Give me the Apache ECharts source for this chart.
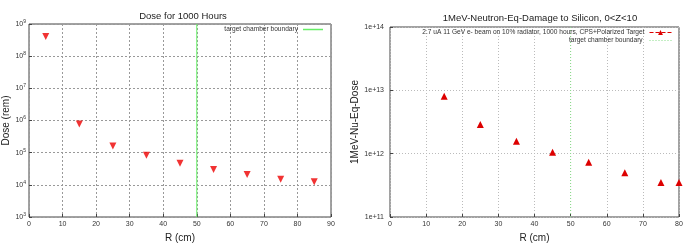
<!DOCTYPE html>
<html><head><meta charset="utf-8">
<script src="https://cdn.jsdelivr.net/npm/echarts@6/dist/echarts.min.js"></script>
<style>html,body{margin:0;padding:0;background:#fff}#c{width:692px;height:248px}</style>
</head><body><div id="c"></div>
<script>
const doseR = [5, 15, 25, 35, 45, 55, 65, 75, 85];
const doseRem = [4.1e8, 7.8e5, 1.6e5, 8.3e4, 4.7e4, 3.0e4, 2.1e4, 1.5e4, 1.25e4];
const niR = [15, 25, 35, 45, 55, 65, 75, 80];
const niDose = [8.1e12, 2.9e12, 1.57e12, 1.05e12, 7.3e11, 5.0e11, 3.5e11, 3.5e11];
const boundaryR = 50;
const leftTitle = 'Dose for 1000 Hours';
const rightTitle = '1MeV-Neutron-Eq-Damage to Silicon, 0<Z<10';
const leftYName = 'Dose (rem)';
const rightYName = '1MeV-Nu-Eq-Dose';
const xName = 'R (cm)';
const legendBoundary = 'target chamber boundary';
const legendBeam = '2.7 uA 11 GeV e- beam on 10% radiator, 1000 hours, CPS+Polarized Target';

const FONT = 'Liberation Sans, Arial, sans-serif';
const chart = echarts.init(document.getElementById('c'));
const grid1 = {left: 28, top: 24, width: 303, height: 197, show: true, borderColor: '#444', borderWidth: 1, backgroundColor: '#fff'};
const grid2 = {left: 390, top: 27, width: 289, height: 198, show: true, borderColor: '#444', borderWidth: 1, backgroundColor: '#fff'};
const split = {show: true, lineStyle: {color: '#999', type: [2, 2], width: 1}};
const split2 = {show: true, lineStyle: {color: '#bbb', type: [1, 2], width: 1}};
const lbl = {fontSize: 7, color: '#333', fontFamily: FONT};
const titleStyle = {fontSize: 9.5, fontWeight: 'normal', color: '#222', fontFamily: FONT};
const nameStyle = {fontSize: 10, color: '#222', fontFamily: FONT};
const legText = {fontSize: 6.6, color: '#333', fontFamily: FONT};

chart.setOption({
  animation: false,
  textStyle: {fontFamily: FONT},
  title: [
    {text: leftTitle, left: 178, top: 6, textAlign: 'center', textStyle: titleStyle},
    {text: rightTitle, left: 535, top: 8, textAlign: 'center', textStyle: titleStyle}
  ],
  legend: [
    {data: [{name: legendBoundary, icon: 'rect', itemStyle: {color: '#66ee66'}}], right: 369, top: 26, padding: 0, align: 'right',
     itemWidth: 20, itemHeight: 1.5, itemGap: 2, textStyle: legText},
    {data: [{name: legendBeam, lineStyle: {width: 1, type: 'dashed', color: '#dd0000', opacity: 1}},
            {name: legendBoundary + ' ', itemStyle: {opacity: 0}, lineStyle: {width: 1, type: [1, 2], color: '#88dd88', opacity: 1}}],
     orient: 'vertical', right: 20, top: 29, padding: 0, align: 'right', itemWidth: 22, itemHeight: 6, itemGap: 1,
     textStyle: legText}
  ],
  grid: [grid1, grid2],
  xAxis: [
    {gridIndex: 0, type: 'value', min: 0, max: 90, interval: 10, name: xName, nameLocation: 'middle', nameGap: 16,
     nameTextStyle: nameStyle,
     axisLine: {show: false}, axisTick: {show: true, inside: true, length: 3, lineStyle: {color: '#444'}},
     axisLabel: Object.assign({margin: 4}, lbl), splitLine: split},
    {gridIndex: 1, type: 'value', min: 0, max: 80, interval: 10, name: xName, nameLocation: 'middle', nameGap: 16,
     nameTextStyle: nameStyle,
     axisLine: {show: false}, axisTick: {show: true, inside: true, length: 3, lineStyle: {color: '#444'}},
     axisLabel: Object.assign({margin: 4}, lbl), splitLine: split2}
  ],
  yAxis: [
    {gridIndex: 0, type: 'log', logBase: 10, min: 1e3, max: 1e9, name: leftYName, nameLocation: 'middle', nameGap: 18,
     nameTextStyle: nameStyle,
     axisLine: {show: false}, axisTick: {show: true, inside: true, length: 3, lineStyle: {color: '#444'}},
     axisLabel: Object.assign({margin: 3, formatter: v => '10{s|' + Math.round(Math.log10(v)) + '}',
       rich: {s: {fontSize: 5, verticalAlign: 'top', padding: [0, 0, 5, 0], color: '#333'}}}, lbl),
     splitLine: split},
    {gridIndex: 1, type: 'log', logBase: 10, min: 1e11, max: 1e14, name: rightYName, nameLocation: 'middle', nameGap: 30,
     nameTextStyle: nameStyle,
     axisLine: {show: false}, axisTick: {show: true, inside: true, length: 3, lineStyle: {color: '#444'}},
     axisLabel: Object.assign({margin: 6, formatter: v => '1e+' + Math.round(Math.log10(v))}, lbl),
     splitLine: split2}
  ],
  series: [
    {name: legendBoundary, type: 'line', xAxisIndex: 0, yAxisIndex: 0, symbol: 'none',
     data: [[boundaryR, 1e3], [boundaryR, 1e9]], lineStyle: {color: '#66ee66', width: 1}, itemStyle: {color: '#66ee66'}, z: 3},
    {name: 'dose', type: 'scatter', xAxisIndex: 0, yAxisIndex: 0, symbol: 'triangle', symbolRotate: 180, symbolSize: 7,
     data: doseR.map((r, i) => [r, doseRem[i]]), itemStyle: {color: '#ee0000'}, z: 5},
    {name: legendBoundary + ' ', type: 'line', xAxisIndex: 1, yAxisIndex: 1, symbol: 'none',
     data: [[boundaryR, 1e11], [boundaryR, 1e14]], lineStyle: {color: '#88dd88', width: 1, type: [1, 2]}, itemStyle: {color: '#88dd88'}, z: 3},
    {name: legendBeam, type: 'line', xAxisIndex: 1, yAxisIndex: 1, symbol: 'triangle', symbolSize: 7,
     data: niR.map((r, i) => [r, niDose[i]]), lineStyle: {width: 0, opacity: 0}, itemStyle: {color: '#dd0000'}, z: 5}
  ]
});
</script></body></html>
